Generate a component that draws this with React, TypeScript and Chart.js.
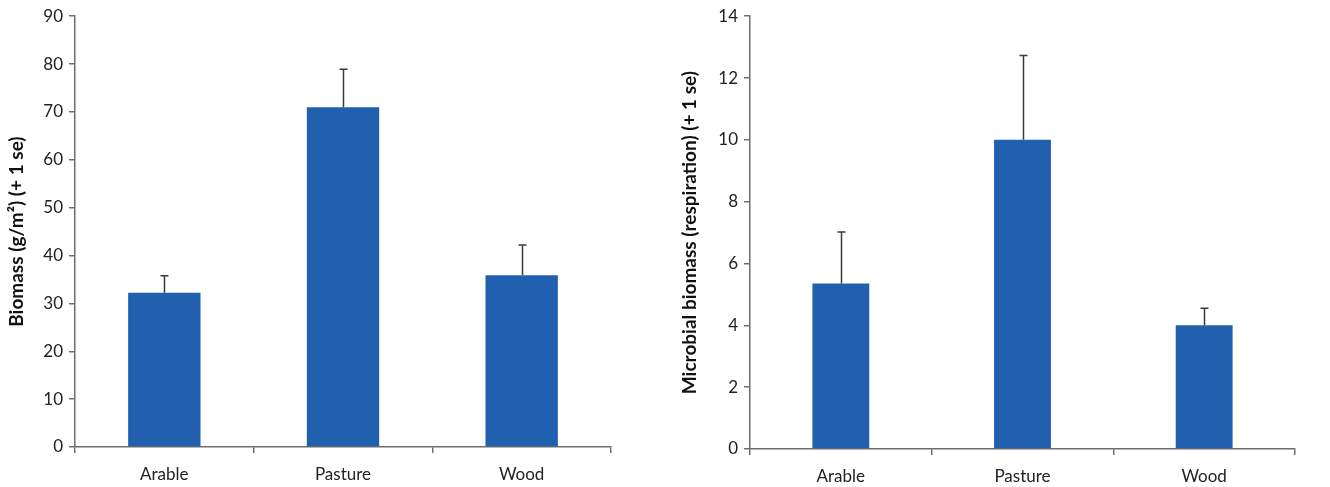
import React, { useEffect, useRef } from "react";
import { Chart, registerables } from "chart.js";

Chart.register(...registerables);

const categories = ["Arable", "Pasture", "Wood"];
const biomass = [32.2, 71.0, 35.9];
const biomassSe = [3.6, 7.9, 6.3];
const microbial = [5.35, 10.0, 4.0];
const microbialSe = [1.67, 2.73, 0.55];
const biomassTicks = { min: 0, max: 90, step: 10 };
const microbialTicks = { min: 0, max: 14, step: 2 };

const FONT = "Lato, 'Open Sans', sans-serif";
const AXIS = "#6e6e6e";
const BAR = "#2160ae";

const errorBarPlugin = {
  id: "errorBars",
  afterDatasetsDraw(chart: any) {
    const errs: number[] = chart.options.plugins.errorBars?.errors || [];
    const ctx = chart.ctx;
    const meta = chart.getDatasetMeta(0);
    const ys = chart.scales.y;
    const data = chart.data.datasets[0].data as number[];
    ctx.save();
    ctx.strokeStyle = "#3a3a3a";
    ctx.lineWidth = 1.5;
    meta.data.forEach((el: any, i: number) => {
      const x = Math.round(el.x) + 0.5;
      const y0 = ys.getPixelForValue(data[i]);
      const y1 = ys.getPixelForValue(data[i] + errs[i]);
      ctx.beginPath();
      ctx.moveTo(x, y0);
      ctx.lineTo(x, y1);
      ctx.moveTo(x - 4, y1);
      ctx.lineTo(x + 4, y1);
      ctx.stroke();
    });
    ctx.restore();
  },
};

function makeConfig(
  values: number[],
  errors: number[],
  ticks: { min: number; max: number; step: number },
  title: string,
  yWidth: number,
  xHeight: number,
  padRight: number,
  barPct: number,
  titlePad: number
): any {
  return {
    type: "bar",
    data: {
      labels: categories,
      datasets: [
        {
          data: values,
          backgroundColor: BAR,
          borderWidth: 0,
          barPercentage: barPct,
          categoryPercentage: 1,
        },
      ],
    },
    plugins: [errorBarPlugin],
    options: {
      responsive: false,
      animation: false,
      devicePixelRatio: 1,
      layout: { padding: { top: 16, right: padRight, left: 0, bottom: 0 } },
      plugins: {
        legend: { display: false },
        tooltip: { enabled: false },
        errorBars: { errors },
      },
      scales: {
        x: {
          afterFit: (s: any) => {
            s.height = xHeight;
          },
          grid: {
            offset: true,
            drawOnChartArea: false,
            drawTicks: true,
            tickLength: 6,
            color: AXIS,
            lineWidth: 1.5,
          },
          border: { display: true, color: AXIS, width: 1.5 },
          ticks: {
            color: "#222",
            padding: 11,
            font: { family: FONT, size: 17 },
          },
        },
        y: {
          min: ticks.min,
          max: ticks.max,
          afterFit: (s: any) => {
            s.width = yWidth;
          },
          grid: {
            drawOnChartArea: false,
            drawTicks: true,
            tickLength: 6,
            color: AXIS,
            lineWidth: 1.5,
          },
          border: { display: true, color: AXIS, width: 1.5 },
          ticks: {
            stepSize: ticks.step,
            color: "#222",
            padding: 6,
            font: { family: FONT, size: 17 },
          },
          title: {
            display: true,
            text: title,
            color: "#111",
            padding: { top: titlePad, bottom: 0 },
            font: { family: FONT, size: 19, weight: "bold" },
          },
        },
      },
    },
  };
}

function BarChart(props: {
  values: number[];
  errors: number[];
  ticks: { min: number; max: number; step: number };
  title: string;
  yWidth: number;
  xHeight: number;
  padRight: number;
  barPct: number;
  titlePad: number;
  width: number;
  left: number;
}) {
  const ref = useRef<HTMLCanvasElement | null>(null);
  useEffect(() => {
    if (!ref.current) return;
    const chart = new Chart(
      ref.current,
      makeConfig(
        props.values,
        props.errors,
        props.ticks,
        props.title,
        props.yWidth,
        props.xHeight,
        props.padRight,
        props.barPct,
        props.titlePad
      )
    );
    return () => chart.destroy();
  }, []);
  return (
    <canvas
      ref={ref}
      width={props.width}
      height={487}
      style={{
        position: "absolute",
        left: props.left,
        top: 0,
        width: props.width,
        height: 487,
      }}
    />
  );
}

export default function App() {
  return (
    <div
      style={{
        position: "fixed",
        left: 0,
        top: 0,
        width: 1330,
        height: 487,
        background: "#fff",
      }}
    >
      <BarChart
        values={biomass}
        errors={biomassSe}
        ticks={biomassTicks}
        title="Biomass (g/m²) (+ 1 se)"
        yWidth={75}
        xHeight={40}
        padRight={29}
        barPct={0.405}
        titlePad={5}
        width={640}
        left={0}
      />
      <BarChart
        values={microbial}
        errors={microbialSe}
        ticks={microbialTicks}
        title="Microbial biomass (respiration) (+ 1 se)"
        yWidth={90}
        xHeight={38}
        padRight={35}
        barPct={0.313}
        titlePad={18}
        width={670}
        left={660}
      />
    </div>
  );
}
